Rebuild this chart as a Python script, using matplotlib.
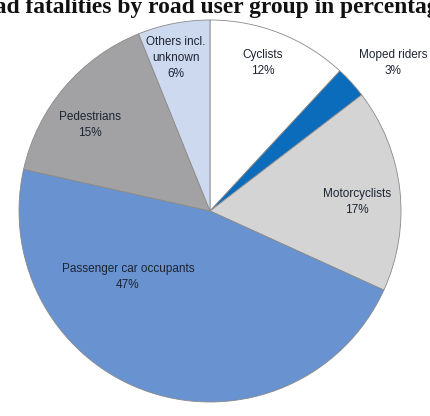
import matplotlib
matplotlib.use("Agg")
import matplotlib.pyplot as plt

# Data (shares in percent)
categories = ["Cyclists", "Moped riders", "Motorcyclists",
              "Passenger car occupants", "Pedestrians", "Others incl.\nunknown"]
shares = [11.9, 2.7, 17.2, 46.7, 15.4, 6.1]
pct_labels = ["12%", "3%", "17%", "47%", "15%", "6%"]
title = "Road fatalities by road user group in percentage"

# Styles
colors = ["#ffffff", "#0b6cbc", "#d4d4d4", "#6892d0", "#a2a2a4", "#cdd9ef"]
# label centres in pixel coordinates (x from left, y from top)
label_pos = [(263, 63), (393, 63), (357, 202), (128, 277), (90, 125), (176, 58)]

W, H = 430, 416
DPI = 100
cx, cy, r = 210, 211, 191

fig = plt.figure(figsize=(W / DPI, H / DPI), dpi=DPI)
ax = fig.add_axes([(cx - r) / W, (H - cy - r) / H, 2 * r / W, 2 * r / H])
ax.pie(shares, colors=colors, startangle=90, counterclock=False, radius=1,
       wedgeprops=dict(edgecolor="#8a8a8a", linewidth=0.6))
ax.set_xlim(-1, 1)
ax.set_ylim(-1, 1)
ax.axis("off")

for cat, pl, (px, py) in zip(categories, pct_labels, label_pos):
    fig.text(px / W, 1 - py / H, f"{cat}\n{pl}", ha="center", va="center",
             fontsize=8.5, family="Liberation Sans", color="#1e2433",
             linespacing=1.4)

fig.text(207 / W, 1 - 13 / H, title, ha="center", va="baseline",
         fontsize=16.9, family="Liberation Serif", fontweight="bold",
         color="#111111")

fig.savefig("out.png", dpi=DPI)
